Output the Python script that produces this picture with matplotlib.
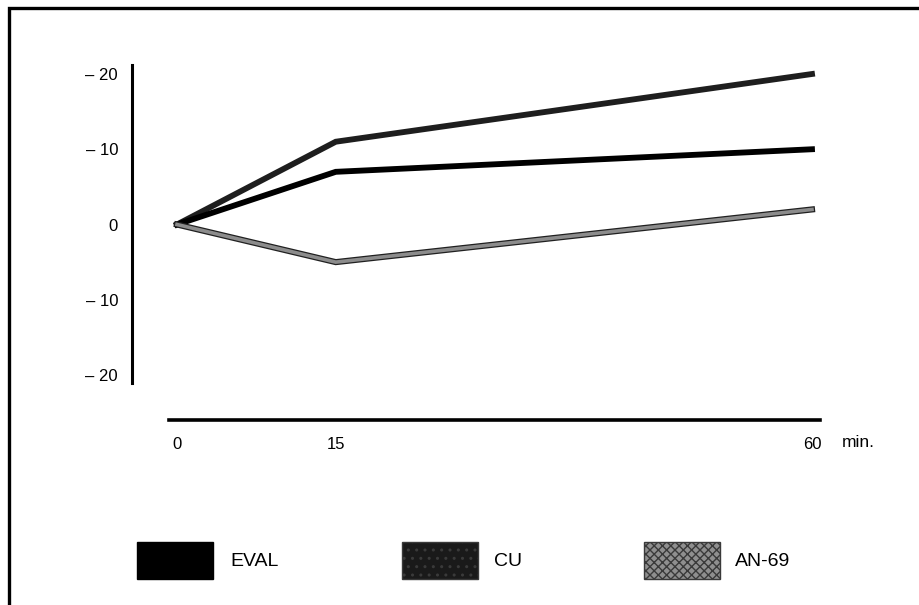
import matplotlib
matplotlib.use("Agg")
import matplotlib.pyplot as plt
from matplotlib.patches import Rectangle
import matplotlib.patheffects as pe

plt.rcParams['font.family'] = ['Liberation Sans', 'DejaVu Sans']

# data
minutes = [0, 15, 60]
eval_vals = [0, 7, 10]
cu_vals = [0, 11, 20]
an69_vals = [0, -5, 2]

series_names = ['EVAL', 'CU', 'AN-69']
y_ticks = [20, 10, 0, -10, -20]
y_ticklabels = ['\u2013 20', '\u2013 10', '0', '\u2013 10', '\u2013 20']
x_ticks = [0, 15, 60]

W, H = 920, 605
fig = plt.figure(figsize=(W / 100, H / 100), dpi=100)

# main axes, placed in pixel terms
left, right, top, bottom = 132, 860, 60, 480
ax = fig.add_axes([left / W, 1 - bottom / H, (right - left) / W, (bottom - top) / H])
px_per_x = (812 - 177) / 60.0
px_per_y = (375 - 74) / 40.0
x0, y0 = 177, 224.5
ax.set_xlim((left - x0) / px_per_x, (right - x0) / px_per_x)
ax.set_ylim((y0 - bottom) / px_per_y, (y0 - top) / px_per_y)

ax.plot(minutes, cu_vals, color='#1e1e1e', lw=4.2, solid_joinstyle='miter', zorder=3)
ax.plot(minutes, eval_vals, color='black', lw=4.2, solid_joinstyle='miter', zorder=3)
ax.plot(minutes, an69_vals, color='#8c8c8c', lw=2.6, solid_joinstyle='miter', zorder=3,
        path_effects=[pe.Stroke(linewidth=4.4, foreground='#202020'), pe.Normal()])

for s in ['top', 'right']:
    ax.spines[s].set_visible(False)
ax.spines['left'].set_linewidth(2.2)
ax.spines['left'].set_bounds((y0 - 383) / px_per_y, (y0 - 65) / px_per_y)
ax.spines['bottom'].set_linewidth(2.6)
ax.spines['bottom'].set_position(('data', (y0 - 420) / px_per_y))
ax.spines['bottom'].set_bounds((169 - x0) / px_per_x, (820 - x0) / px_per_x)

ax.set_yticks(y_ticks)
ax.set_yticklabels(y_ticklabels)
ax.set_xticks(x_ticks)
ax.set_xticklabels([str(t) for t in x_ticks])
ax.tick_params(axis='y', length=0, pad=10, labelsize=12)
ax.tick_params(axis='x', length=0, pad=12, labelsize=12)
ax.text(60 + 30 / px_per_x, (y0 - 442) / px_per_y, 'min.', fontsize=12.5, va='center', ha='left')
ax.patch.set_alpha(0)

# overlay in pixel coords for frame and legend
ov = fig.add_axes([0, 0, 1, 1], zorder=-1)
ov.set_xlim(0, W)
ov.set_ylim(H, 0)
ov.axis('off')
ov.plot([9, 9, W], [H, 8, 8], color='black', lw=2.4, solid_joinstyle='miter')

box_x = [137, 402, 644]
text_x = [230, 494, 735]
box_style = [dict(facecolor='black', edgecolor='black'),
             dict(facecolor='#1a1a1a', edgecolor='#3a3a3a', hatch='..'),
             dict(facecolor='#8f8f8f', edgecolor='#3a3a3a', hatch='xxxx')]
for bx, tx, name, st in zip(box_x, text_x, series_names, box_style):
    ov.add_patch(Rectangle((bx, 542), 76, 37, lw=1, **st))
    ov.text(tx, 561, name, fontsize=14, va='center', ha='left')

fig.savefig('out.png', dpi=100)
